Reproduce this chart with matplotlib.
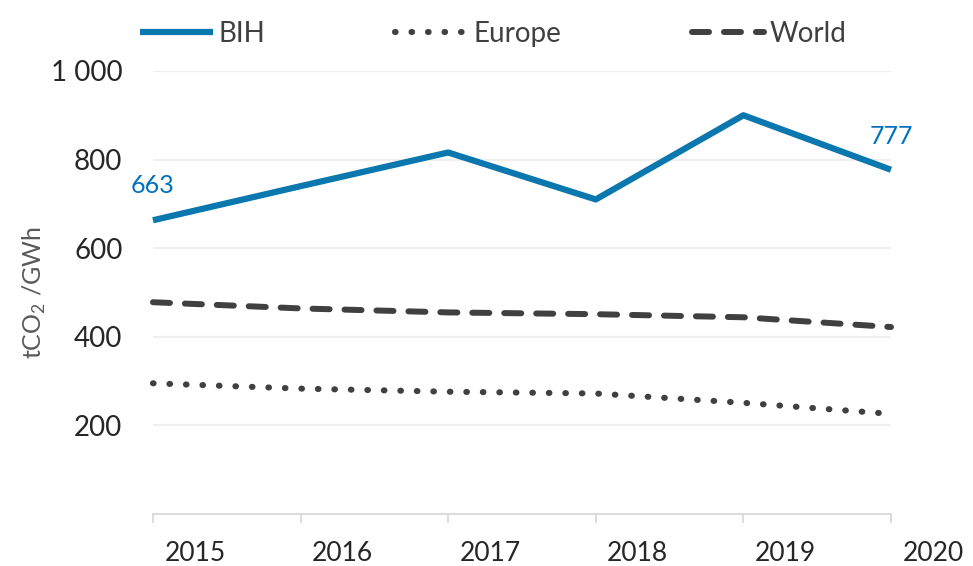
import matplotlib
matplotlib.use("Agg")
import matplotlib.pyplot as plt
import matplotlib.transforms as mtransforms

# dane
years = [2015, 2016, 2017, 2018, 2019, 2020]
bih = [663, 740, 816, 710, 900, 777]
europe = [295, 283, 276, 272, 251, 226]
world = [478, 464, 455, 451, 444, 422]
y_ticks = [200, 400, 600, 800, 1000]
y_tick_labels = ["200", "400", "600", "800", "1 000"]

plt.rcParams["font.family"] = ["Lato", "DejaVu Sans"]

blue = "#0A77AE"
dark = "#404040"

fig = plt.figure(figsize=(9.73, 5.66), dpi=100)
ax = fig.add_axes([0.1572, 0.0919, 0.7585, 0.7827])

ax.plot(years, bih, color=blue, lw=4.5, solid_capstyle="butt", label="BIH", clip_on=False)
ax.plot(years, europe, color=dark, lw=4.4, linestyle=(0, (0.1, 2.6)),
        dash_capstyle="round", label="Europe", clip_on=False)
ax.plot(years, world, color=dark, lw=4.3, linestyle=(0, (2.85, 2.5)),
        dash_capstyle="round", label="World", clip_on=False)

# etykiety pierwszej i ostatniej wartości
ax.annotate(str(bih[0]), (years[0], bih[0]), xytext=(0, 25), textcoords="offset points",
            ha="center", va="center", fontsize=18, color="#0070C0")
ax.annotate(str(bih[-1]), (years[-1], bih[-1]), xytext=(0, 24), textcoords="offset points",
            ha="center", va="center", fontsize=18, color="#0070C0")

ax.set_xlim(years[0], years[-1])
ax.set_ylim(0, 1000)
ax.set_yticks(y_ticks)
ax.set_yticklabels(y_tick_labels)
ax.set_xticks(years)
ax.set_xticklabels([str(y) for y in years])

ax.grid(axis="y", color="#EFEFEF", lw=1.6)
ax.set_axisbelow(True)
for side in ["top", "right", "left"]:
    ax.spines[side].set_visible(False)
ax.spines["bottom"].set_color("#D9D9D9")
ax.spines["bottom"].set_linewidth(1.3)

ax.tick_params(axis="y", length=0, pad=22, labelsize=20, labelcolor="#262626")
ax.tick_params(axis="x", length=6.5, width=1.3, color="#D9D9D9", direction="out",
               pad=13, labelsize=19, labelcolor="#262626")

# przesunięcie etykiet osi X w prawo
offset = mtransforms.ScaledTranslation(0.42, 0, fig.dpi_scale_trans)
for lbl in ax.get_xticklabels():
    lbl.set_transform(lbl.get_transform() + offset)

ax.set_ylabel(r"tCO$_\mathregular{2}$ /GWh", fontsize=18, color="#595959")
ax.yaxis.set_label_coords(-0.142, 0.5)

leg = ax.legend(loc="center left", bbox_to_anchor=(-0.017, 1.083), ncol=3, frameon=False,
                fontsize=20, handlelength=2.6, handletextpad=0.2, columnspacing=4.7,
                labelcolor="#404040", borderaxespad=0, borderpad=0)

fig.savefig("out.png", dpi=100)
